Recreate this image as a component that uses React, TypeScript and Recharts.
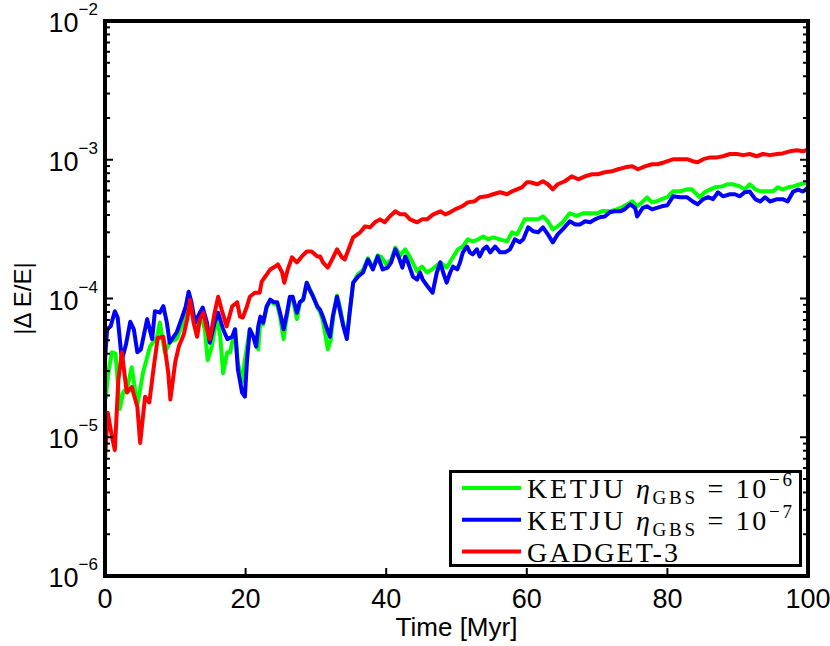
import React from "react";
import { Legend, Line, LineChart, XAxis, YAxis } from "recharts";

// |dE/E| against time, three runs (t in Myr, value on log axis)
const KETJU_E6: [number, number][] = [
  [0.1, 1.9e-5], [0.5, 3.0e-5], [1.0, 4.1e-5], [1.5, 4.0e-5], [2.1, 1.6e-5], [2.6, 2.1e-5],
  [3.2, 2.3e-5], [3.8, 3.2e-5], [4.6, 1.7e-5], [5.4, 2.9e-5], [6.4, 4.5e-5], [7.4, 5.3e-5],
  [7.8, 6.7e-5], [8.5, 4.1e-5], [9.3, 4.9e-5], [10.2, 5.1e-5], [11.1, 6.7e-5], [11.8, 1.03e-4],
  [12.2, 8.8e-5], [13.1, 6.3e-5], [13.8, 7.1e-5], [14.2, 6.0e-5], [14.6, 3.6e-5], [15.2, 4.5e-5],
  [15.9, 7.4e-5], [16.4, 5.3e-5], [16.8, 2.9e-5], [17.4, 4.1e-5], [17.8, 4.1e-5], [18.5, 6.0e-5],
  [18.9, 3.45e-5], [19.5, 2.5e-5], [19.9, 3.6e-5], [20.6, 6.0e-5], [21.1, 5.3e-5], [21.8, 4.3e-5],
  [22.1, 7.0e-5], [22.5, 6.5e-5], [23.0, 8.6e-5], [23.5, 9.6e-5], [24.0, 9.2e-5], [24.5, 9.0e-5],
  [24.9, 7.4e-5], [25.4, 5.1e-5], [25.9, 7.6e-5], [26.3, 1.0e-4], [26.7, 1.0e-4], [27.3, 7.1e-5],
  [27.7, 9.2e-5], [28.2, 1.0e-4], [28.7, 1.3e-4], [29.1, 1.18e-4], [29.6, 1.05e-4], [30.2, 8.6e-5],
  [30.6, 8.0e-5], [31.0, 6.9e-5], [31.7, 4.3e-5], [32.1, 5.0e-5], [32.5, 7.6e-5], [33.0, 1.05e-4],
  [33.4, 8.8e-5], [33.9, 6.5e-5], [34.4, 5.3e-5], [34.8, 7.9e-5], [35.3, 1.3e-4], [36.0, 1.5e-4],
  [36.7, 1.6e-4], [37.4, 1.95e-4], [38.1, 1.66e-4], [38.8, 2.05e-4], [39.3, 2.0e-4], [40.0, 1.76e-4],
  [40.7, 1.9e-4], [41.3, 2.33e-4], [42.0, 2.05e-4], [42.7, 2.26e-4], [43.4, 1.98e-4], [44.4, 1.57e-4],
  [45.1, 1.7e-4], [45.8, 1.54e-4], [46.5, 1.62e-4], [47.7, 1.82e-4], [48.6, 1.67e-4], [49.3, 1.91e-4],
  [50.2, 2.26e-4], [50.9, 2.37e-4], [51.6, 2.67e-4], [52.3, 2.58e-4], [53.1, 2.67e-4], [53.8, 2.8e-4],
  [54.5, 2.67e-4], [55.2, 2.76e-4], [56.2, 2.67e-4], [57.2, 2.58e-4], [57.9, 3.0e-4], [58.6, 2.9e-4],
  [59.0, 3.15e-4], [59.7, 3.72e-4], [60.9, 3.72e-4], [61.6, 3.72e-4], [62.3, 3.91e-4], [63.0, 3.6e-4],
  [63.7, 3.15e-4], [64.4, 3.31e-4], [65.1, 3.54e-4], [66.1, 4.11e-4], [67.1, 3.94e-4], [68.0, 4.11e-4],
  [69.0, 4.11e-4], [70.0, 4.11e-4], [70.8, 4.28e-4], [71.8, 4.25e-4], [72.8, 4.39e-4], [73.5, 4.54e-4],
  [74.3, 4.77e-4], [75.0, 5.02e-4], [75.7, 4.62e-4], [76.4, 4.93e-4], [77.1, 5.36e-4], [77.8, 4.93e-4],
  [78.5, 5.02e-4], [79.2, 5.2e-4], [80.0, 5.37e-4], [80.8, 5.92e-4], [81.8, 5.92e-4], [82.8, 6.12e-4],
  [83.5, 6.12e-4], [83.9, 5.83e-4], [84.6, 5.37e-4], [85.3, 5.83e-4], [86.1, 6.12e-4], [86.8, 6.33e-4],
  [87.8, 6.43e-4], [88.5, 6.66e-4], [89.3, 6.66e-4], [90.3, 6.43e-4], [91.0, 6.12e-4], [91.7, 6.66e-4],
  [92.5, 6.12e-4], [93.2, 5.92e-4], [94.2, 5.92e-4], [95.0, 5.92e-4], [95.7, 6.33e-4], [96.4, 6.12e-4],
  [97.2, 6.33e-4], [97.9, 6.43e-4], [98.9, 6.66e-4], [99.9, 6.88e-4],
];

const KETJU_E7: [number, number][] = [
  [0, 3.6e-5], [0.3, 6.0e-5], [0.8, 6.3e-5], [1.4, 8.1e-5], [1.8, 7.3e-5], [2.4, 3.6e-5],
  [3.0, 4.7e-5], [3.6, 6.8e-5], [4.1, 6.0e-5], [4.6, 4.1e-5], [5.1, 4.3e-5], [6.0, 7.1e-5],
  [6.7, 5.1e-5], [7.1, 8.1e-5], [7.8, 7.9e-5], [8.3, 8.8e-5], [8.8, 6.7e-5], [9.2, 4.8e-5],
  [10.2, 5.7e-5], [11.0, 7.4e-5], [11.5, 8.8e-5], [11.9, 1.12e-4], [12.3, 9.4e-5], [12.8, 6.7e-5],
  [13.5, 7.9e-5], [13.9, 8.6e-5], [14.5, 6.7e-5], [14.9, 4.8e-5], [15.6, 6.7e-5], [16.1, 7.9e-5],
  [16.8, 6.0e-5], [17.4, 5.1e-5], [18.1, 5.3e-5], [18.5, 6.0e-5], [18.9, 3.1e-5], [19.5, 2.1e-5],
  [19.9, 1.96e-5], [20.2, 3.6e-5], [20.6, 6.0e-5], [21.1, 5.3e-5], [21.5, 4.5e-5], [21.8, 6.3e-5],
  [22.1, 7.4e-5], [22.5, 6.7e-5], [23.0, 8.8e-5], [23.5, 9.8e-5], [24.0, 9.4e-5], [24.5, 9.4e-5],
  [24.9, 7.9e-5], [25.4, 6.0e-5], [25.9, 7.9e-5], [26.3, 1.03e-4], [26.7, 1.03e-4], [27.3, 7.9e-5],
  [27.7, 9.4e-5], [28.2, 9.8e-5], [28.7, 1.3e-4], [29.1, 1.16e-4], [29.6, 1.03e-4], [30.2, 8.8e-5],
  [30.6, 8.3e-5], [31.0, 7.4e-5], [31.6, 6.0e-5], [32.0, 5.3e-5], [32.4, 7.4e-5], [33.0, 1.03e-4],
  [33.4, 8.3e-5], [33.9, 6.3e-5], [34.4, 5.1e-5], [34.8, 7.9e-5], [35.3, 1.3e-4], [36.0, 1.44e-4],
  [36.7, 1.54e-4], [37.4, 1.91e-4], [38.1, 1.62e-4], [38.8, 2.01e-4], [39.5, 1.62e-4], [40.2, 1.67e-4],
  [40.7, 1.82e-4], [41.3, 2.26e-4], [41.8, 1.98e-4], [42.3, 1.67e-4], [42.7, 2.01e-4], [43.1, 1.82e-4],
  [43.8, 1.44e-4], [44.4, 1.37e-4], [44.8, 1.54e-4], [45.2, 1.37e-4], [45.9, 1.22e-4], [46.6, 1.1e-4],
  [47.2, 1.54e-4], [47.7, 1.82e-4], [48.1, 1.54e-4], [48.6, 1.3e-4], [49.1, 1.54e-4], [49.5, 1.7e-4],
  [50.1, 1.62e-4], [50.5, 1.82e-4], [50.9, 2.15e-4], [51.5, 2.37e-4], [51.9, 2.15e-4], [52.3, 2.08e-4],
  [52.9, 2.26e-4], [53.3, 2.01e-4], [53.8, 2.26e-4], [54.3, 2.37e-4], [54.8, 2.15e-4], [55.5, 2.37e-4],
  [56.2, 2.15e-4], [56.9, 2.15e-4], [57.6, 2.26e-4], [58.3, 2.67e-4], [59.0, 2.54e-4], [59.5, 2.67e-4],
  [60.2, 3.26e-4], [60.9, 3.05e-4], [61.6, 3.0e-4], [62.3, 3.26e-4], [63.0, 2.9e-4], [63.7, 2.54e-4],
  [64.4, 2.9e-4], [65.1, 3.15e-4], [66.1, 3.6e-4], [66.9, 3.42e-4], [67.6, 3.42e-4], [68.3, 3.6e-4],
  [69.0, 3.54e-4], [69.7, 3.72e-4], [70.4, 3.85e-4], [71.1, 3.9e-4], [71.8, 4.18e-4], [72.5, 4.25e-4],
  [73.3, 4.25e-4], [73.9, 4.39e-4], [74.7, 4.77e-4], [75.4, 4.5e-4], [75.7, 3.9e-4], [76.5, 4.5e-4],
  [77.1, 4.62e-4], [77.8, 4.39e-4], [78.5, 4.5e-4], [79.2, 4.62e-4], [80.0, 4.7e-4], [80.8, 5.45e-4],
  [81.8, 5.37e-4], [82.8, 5.37e-4], [83.6, 5.0e-4], [84.3, 4.77e-4], [85.1, 5.2e-4], [85.8, 5.37e-4],
  [86.5, 5.2e-4], [87.2, 5.83e-4], [87.9, 5.45e-4], [88.9, 5.64e-4], [89.6, 5.64e-4], [90.3, 5.45e-4],
  [91.0, 5.83e-4], [91.7, 5.9e-4], [92.5, 5.2e-4], [93.2, 5.0e-4], [93.9, 5.37e-4], [94.6, 5.0e-4],
  [95.6, 5.2e-4], [96.4, 5.2e-4], [97.1, 5.0e-4], [97.9, 5.9e-4], [98.6, 6.1e-4], [99.3, 5.9e-4],
  [100, 6.3e-4],
];

const GADGET3: [number, number][] = [
  [0, 6.9e-6], [0.4, 1.5e-5], [1.0, 1.0e-5], [1.4, 8.1e-6], [1.9, 2.6e-5], [2.4, 4.1e-5],
  [3.1, 2.1e-5], [3.8, 2.3e-5], [4.6, 1.66e-5], [5.0, 9.1e-6], [5.7, 1.96e-5], [6.3, 1.78e-5],
  [6.9, 3.1e-5], [7.5, 5.2e-5], [8.3, 5.3e-5], [9.0, 2.9e-5], [9.3, 1.87e-5], [10.0, 3.5e-5],
  [10.5, 4.5e-5], [11.2, 5.5e-5], [11.7, 7.1e-5], [12.1, 9.8e-5], [12.6, 6.7e-5], [13.1, 5.3e-5],
  [13.5, 7.1e-5], [14.0, 7.9e-5], [14.5, 6.0e-5], [14.9, 5.1e-5], [15.6, 7.9e-5], [16.1, 1.03e-4],
  [16.6, 8.3e-5], [17.3, 6.3e-5], [18.1, 8.8e-5], [18.8, 9.4e-5], [19.2, 7.4e-5], [19.6, 7.3e-5],
  [20.2, 8.8e-5], [20.6, 1.03e-4], [21.3, 1.1e-4], [22.0, 1.1e-4], [22.3, 1.33e-4], [22.8, 1.44e-4],
  [23.5, 1.62e-4], [24.2, 1.7e-4], [24.6, 1.76e-4], [25.2, 1.54e-4], [25.5, 1.3e-4], [26.0, 1.62e-4],
  [26.6, 1.98e-4], [27.3, 1.82e-4], [28.0, 2.01e-4], [28.7, 2.18e-4], [29.4, 2.18e-4], [30.2, 2.01e-4],
  [30.6, 2.01e-4], [31.0, 1.82e-4], [31.7, 1.67e-4], [32.3, 1.91e-4], [33.0, 2.26e-4], [33.7, 1.98e-4],
  [34.1, 1.91e-4], [34.8, 2.37e-4], [35.3, 2.76e-4], [36.3, 3.0e-4], [37.0, 3.31e-4], [37.7, 3.26e-4],
  [38.4, 3.54e-4], [39.1, 3.72e-4], [39.8, 3.54e-4], [40.5, 3.9e-4], [41.3, 4.25e-4], [42.0, 4.04e-4],
  [42.7, 4.04e-4], [43.4, 3.72e-4], [44.4, 3.54e-4], [45.1, 3.72e-4], [45.8, 3.72e-4], [46.7, 4.04e-4],
  [47.7, 4.25e-4], [48.4, 4.04e-4], [49.1, 4.18e-4], [49.8, 4.39e-4], [50.8, 4.62e-4], [51.6, 4.93e-4],
  [52.6, 5.02e-4], [53.3, 5.37e-4], [54.3, 5.45e-4], [55.2, 5.64e-4], [56.2, 5.83e-4], [57.2, 5.64e-4],
  [57.9, 5.92e-4], [58.6, 6.12e-4], [59.3, 6.33e-4], [60.0, 6.88e-4], [60.5, 6.88e-4], [61.5, 6.66e-4],
  [62.3, 7.0e-4], [63.0, 6.66e-4], [63.7, 6.12e-4], [64.4, 6.66e-4], [65.4, 7.0e-4], [66.4, 7.6e-4],
  [67.3, 7.23e-4], [68.3, 7.6e-4], [69.3, 7.86e-4], [70.1, 7.86e-4], [71.1, 8.12e-4], [72.1, 8.25e-4],
  [73.0, 8.54e-4], [74.0, 8.82e-4], [75.0, 8.97e-4], [75.8, 8.54e-4], [76.8, 8.97e-4], [77.8, 9.28e-4],
  [78.6, 9.28e-4], [79.6, 9.6e-4], [80.8, 1.008e-3], [81.8, 1.01e-3], [82.8, 1.01e-3], [83.6, 9.76e-4],
  [84.3, 9.6e-4], [85.1, 1.01e-3], [86.1, 1.04e-3], [87.1, 1.04e-3], [87.9, 1.06e-3], [88.9, 1.1e-3],
  [89.9, 1.1e-3], [90.8, 1.08e-3], [91.7, 1.1e-3], [92.7, 1.06e-3], [93.6, 1.1e-3], [94.6, 1.08e-3],
  [95.6, 1.1e-3], [96.4, 1.11e-3], [97.4, 1.15e-3], [98.4, 1.17e-3], [99.3, 1.15e-3], [100, 1.19e-3],
];

const TIME_TICKS = [0, 20, 40, 60, 80, 100];
const TOP_TICKS = [20, 40, 60, 80];
const DECADES = [-6, -5, -4, -3, -2];
const MINOR_STEPS = [2, 3, 4, 5, 6, 7, 8, 9];

const SERIES = [
  { key: "e6", label: "KETJU", exp: "−6", color: "#00ff00", data: KETJU_E6 },
  { key: "e7", label: "KETJU", exp: "−7", color: "#0000ff", data: KETJU_E7 },
  { key: "g3", label: "GADGET-3", exp: "", color: "#ff0000", data: GADGET3 },
];

const LOG_TICKS: number[] = [];
DECADES.forEach((e, i) => {
  LOG_TICKS.push(Math.pow(10, e));
  if (i < DECADES.length - 1) MINOR_STEPS.forEach((m) => LOG_TICKS.push(m * Math.pow(10, e)));
});

const SANS = '"Liberation Sans", Arial, Helvetica, sans-serif';
const SERIF = '"Liberation Serif", "Times New Roman", serif';
const FRAME = { stroke: "#000", strokeWidth: 4, strokeLinecap: "square" as const };

function isDecade(v: number) {
  const lg = Math.log10(v);
  return Math.abs(lg - Math.round(lg)) < 1e-6;
}

function LeftTick({ x, y, payload }: any) {
  const major = isDecade(payload.value);
  return (
    <g>
      <line x1={x} x2={x + (major ? 8 : 5)} y1={y} y2={y} stroke="#000" strokeWidth={2} />
      {major && (
        <text x={x - 7} y={y + 11} textAnchor="end" fontFamily={SANS} fontSize={27} fill="#000">
          10
          <tspan dy={-17} fontSize={17}>
            {"−" + -Math.round(Math.log10(payload.value))}
          </tspan>
        </text>
      )}
    </g>
  );
}

function RightTick({ x, y, payload }: any) {
  const major = isDecade(payload.value);
  return <line x1={x} x2={x - (major ? 8 : 5)} y1={y} y2={y} stroke="#000" strokeWidth={2} />;
}

function BottomTick({ x, y, payload }: any) {
  return (
    <g>
      <line x1={x} x2={x} y1={y} y2={y - 8} stroke="#000" strokeWidth={2} />
      <text x={x} y={y + 32} textAnchor="middle" fontFamily={SANS} fontSize={27} fill="#000">
        {payload.value}
      </text>
    </g>
  );
}

function TopTick({ x, y }: any) {
  return <line x1={x} x2={x} y1={y} y2={y + 8} stroke="#000" strokeWidth={2} />;
}

function YTitle({ viewBox }: any) {
  const cx = viewBox.x + 26;
  const cy = viewBox.y + viewBox.height / 2;
  return (
    <text
      x={cx}
      y={cy}
      transform={`rotate(-90 ${cx} ${cy})`}
      textAnchor="middle"
      fontFamily={SANS}
      fontSize={24}
      fill="#000"
    >
      |Δ E/E|
    </text>
  );
}

function XTitle({ viewBox }: any) {
  return (
    <text
      x={viewBox.x + viewBox.width / 2}
      y={viewBox.y + 60}
      textAnchor="middle"
      fontFamily={SANS}
      fontSize={26}
      fill="#000"
    >
      Time [Myr]
    </text>
  );
}

function LegendBox() {
  return (
    <svg width={353} height={97} style={{ display: "block" }}>
      <rect x={1.5} y={1.5} width={350} height={94} fill="#fff" stroke="#000" strokeWidth={3} />
      {SERIES.map((s, i) => {
        const base = 28 + i * 31.8;
        return (
          <g key={s.key}>
            <line x1={13} x2={72} y1={base - 10} y2={base - 10} stroke={s.color} strokeWidth={4} />
            {s.exp ? (
              <text x={78} y={base} fontFamily={SERIF} fontSize={28} fill="#000" textLength={265} lengthAdjust="spacing">
                {s.label + " "}
                <tspan fontStyle="italic">η</tspan>
                <tspan fontSize={19} dy={6}>GBS</tspan>
                <tspan dy={-6}>{" = 10"}</tspan>
                <tspan fontSize={19} dy={-12}>{s.exp}</tspan>
              </text>
            ) : (
              <text x={78} y={base} fontFamily={SERIF} fontSize={28} fill="#000" textLength={151} lengthAdjust="spacing">
                {s.label}
              </text>
            )}
          </g>
        );
      })}
    </svg>
  );
}

export default function App() {
  return (
    <div style={{ position: "absolute", left: 0, top: 0, width: 830, height: 646, background: "#fff" }}>
      <LineChart width={830} height={646} margin={{ top: 20, right: 21, bottom: 10, left: 5 }}>
        <XAxis
          dataKey="t"
          type="number"
          domain={[0, 100]}
          allowDataOverflow
          ticks={TIME_TICKS}
          interval={0}
          height={60}
          tickSize={0}
          tickMargin={0}
          tickLine={false}
          axisLine={FRAME}
          tick={(p: any) => <BottomTick {...p} />}
          label={{ content: (p: any) => <XTitle {...p} /> }}
        />
        <XAxis
          xAxisId="top"
          orientation="top"
          type="number"
          domain={[0, 100]}
          allowDataOverflow
          ticks={TOP_TICKS}
          interval={0}
          height={1}
          tickSize={0}
          tickMargin={0}
          tickLine={false}
          axisLine={FRAME}
          tick={(p: any) => <TopTick {...p} />}
        />
        <YAxis
          type="number"
          scale="log"
          domain={[1e-6, 1e-2]}
          allowDataOverflow
          ticks={LOG_TICKS}
          interval={0}
          width={100}
          tickSize={0}
          tickMargin={0}
          tickLine={false}
          axisLine={FRAME}
          tick={(p: any) => <LeftTick {...p} />}
          label={{ content: (p: any) => <YTitle {...p} /> }}
        />
        <YAxis
          yAxisId="right"
          orientation="right"
          type="number"
          scale="log"
          domain={[1e-6, 1e-2]}
          allowDataOverflow
          ticks={LOG_TICKS}
          interval={0}
          width={1}
          tickSize={0}
          tickMargin={0}
          tickLine={false}
          axisLine={FRAME}
          tick={(p: any) => <RightTick {...p} />}
        />
        {SERIES.map((s) => (
          <Line
            key={s.key}
            data={s.data.map(([t, v]) => ({ t, v }))}
            dataKey="v"
            type="linear"
            stroke={s.color}
            strokeWidth={4}
            strokeLinejoin="round"
            dot={false}
            activeDot={false}
            isAnimationActive={false}
          />
        ))}
        <Legend
          layout="vertical"
          align="center"
          verticalAlign="middle"
          wrapperStyle={{ left: 449, top: 470, width: 353, height: 97 }}
          content={() => <LegendBox />}
        />
      </LineChart>
    </div>
  );
}
